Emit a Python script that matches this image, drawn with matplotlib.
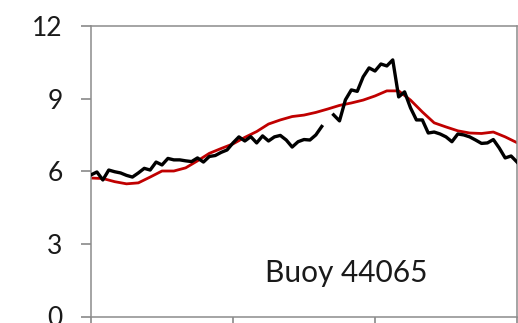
import numpy as np
import matplotlib
matplotlib.use('Agg')
import matplotlib.pyplot as plt

plt.rcParams['font.family'] = ['Lato', 'DejaVu Sans']

# hourly observed wave height at the buoy (NaN = missing record)
obs_hours = np.arange(73)
obs_values = [
    5.85, 5.97, 5.64, 6.05, 5.98, 5.93, 5.83, 5.76, 5.93, 6.12,
    6.05, 6.38, 6.26, 6.53, 6.47, 6.47, 6.43, 6.40, 6.55, 6.38,
    6.61, 6.65, 6.78, 6.88, 7.17, 7.42, 7.25, 7.43, 7.17, 7.46,
    7.25, 7.42, 7.48, 7.29, 7.00, 7.22, 7.31, 7.29, 7.50, 7.85,
    np.nan, 8.33, 8.08, 8.95, 9.36, 9.30, 9.90, 10.27, 10.14, 10.43,
    10.35, 10.60, 9.07, 9.28, 8.62, 8.12, 8.12, 7.58, 7.62, 7.54,
    7.42, 7.22, 7.54, 7.50, 7.42, 7.29, 7.15, 7.17, 7.31, 6.96,
    6.55, 6.63, 6.38,
]

# model output every 2 hours
model_hours = np.arange(0, 73, 2)
model_values = [
    5.72, 5.70, 5.57, 5.48, 5.52, 5.76, 6.01, 6.01, 6.14, 6.43,
    6.74, 6.94, 7.13, 7.40, 7.64, 7.95, 8.12, 8.26, 8.32, 8.43,
    8.57, 8.72, 8.82, 8.94, 9.11, 9.32, 9.32, 8.94, 8.45, 8.00,
    7.83, 7.67, 7.58, 7.56, 7.62, 7.42, 7.18,
]

y_ticks = [0, 3, 6, 9, 12]
x_ticks = [0, 24, 48, 72]
station = 'Buoy 44065'

fig = plt.figure(figsize=(5.18, 3.23), dpi=100)
ax = fig.add_axes([91 / 518, 6.5 / 323, 426 / 518, 290.5 / 323])

ax.plot(obs_hours, obs_values, color='black', linewidth=2.4, zorder=3)
ax.plot(model_hours, model_values, color='#C00000', linewidth=2.0, zorder=2)

ax.set_xlim(0, 72)
ax.set_ylim(0, 12)
ax.set_yticks(y_ticks)
ax.set_xticks(x_ticks)
ax.tick_params(axis='y', direction='out', length=7.5, width=1.1,
               color='#7f7f7f', labelsize=19, pad=13, labelcolor='#1a1a1a')
ax.tick_params(axis='x', direction='out', length=7.5, width=1.1,
               color='#7f7f7f', labelbottom=False)
for sp in ax.spines.values():
    sp.set_color('#8c8c8c')
    sp.set_linewidth(1.1)

ax.text(29.4, 1.43, station, fontsize=21.5, color='#1a1a1a',
        ha='left', va='baseline')

fig.savefig('out.png', dpi=100)
